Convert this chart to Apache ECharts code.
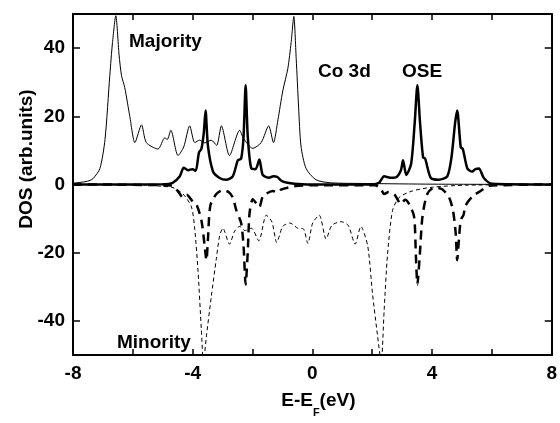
<!DOCTYPE html>
<html>
<head>
<meta charset="utf-8">
<script src="https://cdn.jsdelivr.net/npm/echarts@6/dist/echarts.min.js"></script>
<style>
  html, body { margin: 0; padding: 0; background: #fff; }
  #dos { width: 560px; height: 423px; }
</style>
</head>
<body>
<div id="dos"></div>
<script>
// 坐标轴刻度
const xLabels = [-8, -4, 0, 4, 8];
const xTicks = [-6, -4, -2, 0, 2, 4, 6];
const yLabels = [-40, -20, 0, 20, 40];

// Co 3d 自旋向上 (细实线)  [E-EF, DOS]
const coUp = [
    [-8, 0.4], [-7.6, 0.8], [-7.43, 1.2], [-7.32, 1.8], [-7.1, 4.7], [-6.93, 13.2], [-6.77, 32],
    [-6.68, 41.6], [-6.57, 49.5], [-6.46, 38], [-6.38, 32], [-6.27, 28.4], [-6.1, 19.9], [-5.93, 12.3],
    [-5.71, 17.5], [-5.55, 12.3], [-5.16, 10.4], [-4.93, 13.7], [-4.85, 13.2], [-4.73, 15.9],
    [-4.49, 8.5], [-4.3, 11], [-4.1, 17.2], [-3.93, 12.3], [-3.77, 13], [-3.6, 12.2], [-3.38, 13],
    [-3.2, 11.5], [-3.04, 17.2], [-2.77, 8.5], [-2.43, 15.9], [-2.3, 13.5], [-1.99, 10.6],
    [-1.71, 12.3], [-1.46, 17.2], [-1.3, 12.3], [-1.15, 19], [-0.99, 27.4], [-0.82, 34],
    [-0.71, 41.6], [-0.62, 49.3], [-0.54, 36.9], [-0.46, 22.7], [-0.38, 11.3], [-0.21, 4.7],
    [0.12, 1.4], [0.6, 0.5], [1.8, 0.3], [4, 0.1], [8, 0]
];

// OSE 自旋向上 (粗实线)
const oseUp = [
    [-8, 0], [-5, 0.1], [-4.67, 0.5], [-4.43, 2.4], [-4.3, 4.9], [-4.15, 4.2], [-4.01, 4.5], [-3.9, 4.0],
    [-3.79, 9.4], [-3.71, 10.4], [-3.63, 15], [-3.57, 21.7], [-3.49, 11.3], [-3.32, 3.8], [-3.1, 1.9],
    [-2.88, 1.4], [-2.66, 2.4], [-2.49, 7.1], [-2.38, 7.6], [-2.3, 14], [-2.23, 29.1], [-2.16, 14.2],
    [-2.04, 4.7], [-1.9, 4.5], [-1.77, 7.3], [-1.66, 2.8], [-1.45, 2.0], [-1.3, 2.4], [-1.17, 2.2],
    [-1.0, 0.9], [-0.6, 0.2], [0, 0], [2.0, 0], [2.23, 0.5], [2.4, 2.4], [2.6, 2.0], [2.79, 2.1],
    [2.96, 4.2], [3.03, 7.1], [3.14, 2.8], [3.3, 6], [3.42, 18], [3.51, 29.1], [3.6, 18], [3.7, 8],
    [3.77, 7.6], [3.96, 1.9], [4.23, 1.4], [4.51, 2.4], [4.65, 8], [4.77, 18], [4.84, 21.7], [4.96, 10.9],
    [5.03, 10.4], [5.18, 4.7], [5.34, 3.8], [5.45, 4.5], [5.57, 4.7], [5.73, 1.9], [6.01, 0.2], [8, 0]
];

// Co 3d 自旋向下 (细虚线)
const coDn = [
    [-8, 0], [-5.5, -0.2], [-5.1, -0.5], [-4.66, -0.9], [-4.32, -2.8], [-4.04, -6.6], [-3.93, -13.2],
    [-3.82, -25.5], [-3.71, -42.6], [-3.64, -52], [-3.54, -44.4], [-3.38, -33], [-3.21, -21.8],
    [-3.1, -15.1], [-2.99, -12.8], [-2.77, -17.5], [-2.6, -13.7], [-2.43, -12.3], [-2.25, -13.5],
    [-2.04, -12.8], [-1.79, -16.5], [-1.54, -9], [-1.35, -11], [-1.19, -17], [-0.99, -12.3],
    [-0.75, -11.3], [-0.49, -12.8], [-0.3, -13], [-0.15, -17.3], [0.01, -11.3], [0.23, -9],
    [0.46, -16], [0.65, -12], [0.96, -10.9], [1.2, -12], [1.43, -17.5], [1.62, -12.3], [1.85, -18],
    [2.01, -32], [2.18, -44.4], [2.3, -52], [2.4, -36.8], [2.51, -20.8], [2.68, -7.6], [2.9, -3.8],
    [3.34, -1.9], [4.01, -0.8], [5.12, -0.2], [8, 0]
];

// OSE 自旋向下 (粗虚线)
const oseDn = [
    [-8, 0], [-4.7, -0.3], [-4.45, -2.5], [-4.33, -3.8], [-4.2, -3], [-4.0, -5], [-3.88, -5.7],
    [-3.71, -10.4], [-3.6, -18], [-3.54, -22.2], [-3.49, -16], [-3.41, -6.2], [-3.21, -2.8],
    [-2.99, -1.7], [-2.8, -2.2], [-2.66, -3.8], [-2.54, -7.6], [-2.38, -11.3], [-2.3, -18],
    [-2.23, -29.3], [-2.16, -19.9], [-2.1, -8.5], [-1.99, -4.3], [-1.86, -5.7], [-1.77, -6.6],
    [-1.65, -3.5], [-1.32, -1.9], [-1.16, -2.4], [-1.05, -1.5], [-0.6, -0.5], [0, -0.2], [2.1, -0.2],
    [2.3, -1.5], [2.4, -2.8], [2.55, -2.2], [2.75, -3], [2.96, -5.7], [3.1, -4.5], [3.23, -5.7],
    [3.4, -9.4], [3.46, -20.8], [3.51, -29.3], [3.59, -20.8], [3.68, -9.4], [3.84, -2.8], [4.07, -0.9],
    [4.34, -1.4], [4.57, -3.8], [4.7, -7.6], [4.79, -14.2], [4.84, -22.2], [4.9, -16], [4.96, -10.4],
    [5.05, -9], [5.12, -6.2], [5.35, -3.5], [5.62, -1.9], [5.9, -0.4], [8, 0]
];

const FONT = '"Liberation Sans", Arial, sans-serif';

var chart = echarts.init(document.getElementById('dos'));

var frameLine = { show: true, onZero: false, lineStyle: { color: '#000', width: 2 } };

var option = {
    animation: false,
    backgroundColor: '#fff',
    grid: { left: 73, right: 8, top: 14, bottom: 56 },
    xAxis: [
        {
            type: 'value', min: -8, max: 8, position: 'bottom',
            axisLine: frameLine,
            axisTick: { inside: true, length: 6, customValues: xTicks, lineStyle: { color: '#000', width: 1.5 } },
            axisLabel: { customValues: xLabels, margin: 9, color: '#000', fontFamily: FONT, fontWeight: 'bold', fontSize: 19 },
            splitLine: { show: false },
            name: 'E-E{sub|F}(eV)', nameLocation: 'middle', nameGap: 36,
            nameTextStyle: {
                color: '#000', fontFamily: FONT, fontWeight: 'bold', fontSize: 19, padding: [0, 0, 0, 12],
                rich: { sub: { fontFamily: FONT, fontWeight: 'bold', fontSize: 11, verticalAlign: 'bottom', padding: [0, 0, -8, 0] } }
            }
        },
        {
            type: 'value', min: -8, max: 8, position: 'top',
            axisLine: frameLine,
            axisTick: { inside: true, length: 6, customValues: xTicks, lineStyle: { color: '#000', width: 1.5 } },
            axisLabel: { show: false },
            splitLine: { show: false }
        }
    ],
    yAxis: [
        {
            type: 'value', min: -50, max: 50, position: 'left',
            axisLine: frameLine,
            axisTick: { inside: true, length: 7, customValues: yLabels, lineStyle: { color: '#000', width: 1.5 } },
            axisLabel: { customValues: yLabels, margin: 8, color: '#000', fontFamily: FONT, fontWeight: 'bold', fontSize: 19 },
            splitLine: { show: false }
        },
        {
            type: 'value', min: -50, max: 50, position: 'right',
            axisLine: frameLine,
            axisTick: { inside: true, length: 7, customValues: yLabels, lineStyle: { color: '#000', width: 1.5 } },
            axisLabel: { show: false },
            splitLine: { show: false }
        }
    ],
    series: [
        {
            name: 'Co 3d up', type: 'line', data: coUp, showSymbol: false, smooth: 0.25,
            lineStyle: { color: '#000', width: 1 }
        },
        {
            name: 'Co 3d down', type: 'line', data: coDn, showSymbol: false, smooth: 0.25,
            lineStyle: { color: '#000', width: 1, type: [4, 3] }
        },
        {
            name: 'OSE down', type: 'line', data: oseDn, showSymbol: false, smooth: 0.25,
            lineStyle: { color: '#000', width: 2.5, type: [9, 6] }
        },
        {
            name: 'OSE up', type: 'line', data: oseUp, showSymbol: false, smooth: 0.25,
            lineStyle: { color: '#000', width: 2.5 }
        }
    ],
    graphic: [
        { type: 'text', left: 129, top: 32, style: { text: 'Majority', font: 'bold 19px ' + FONT, fill: '#000' } },
        { type: 'text', left: 318, top: 62, style: { text: 'Co 3d', font: 'bold 19px ' + FONT, fill: '#000' } },
        { type: 'text', left: 402, top: 62, style: { text: 'OSE', font: 'bold 19px ' + FONT, fill: '#000' } },
        { type: 'text', left: 117, top: 333, style: { text: 'Minority', font: 'bold 19px ' + FONT, fill: '#000' } },
        {
            type: 'text', x: 27, y: 159, rotation: Math.PI / 2,
            style: { text: 'DOS (arb.units)', font: 'bold 19px ' + FONT, fill: '#000', align: 'center', verticalAlign: 'middle' }
        }
    ]
};

option && chart.setOption(option);
</script>
</body>
</html>
